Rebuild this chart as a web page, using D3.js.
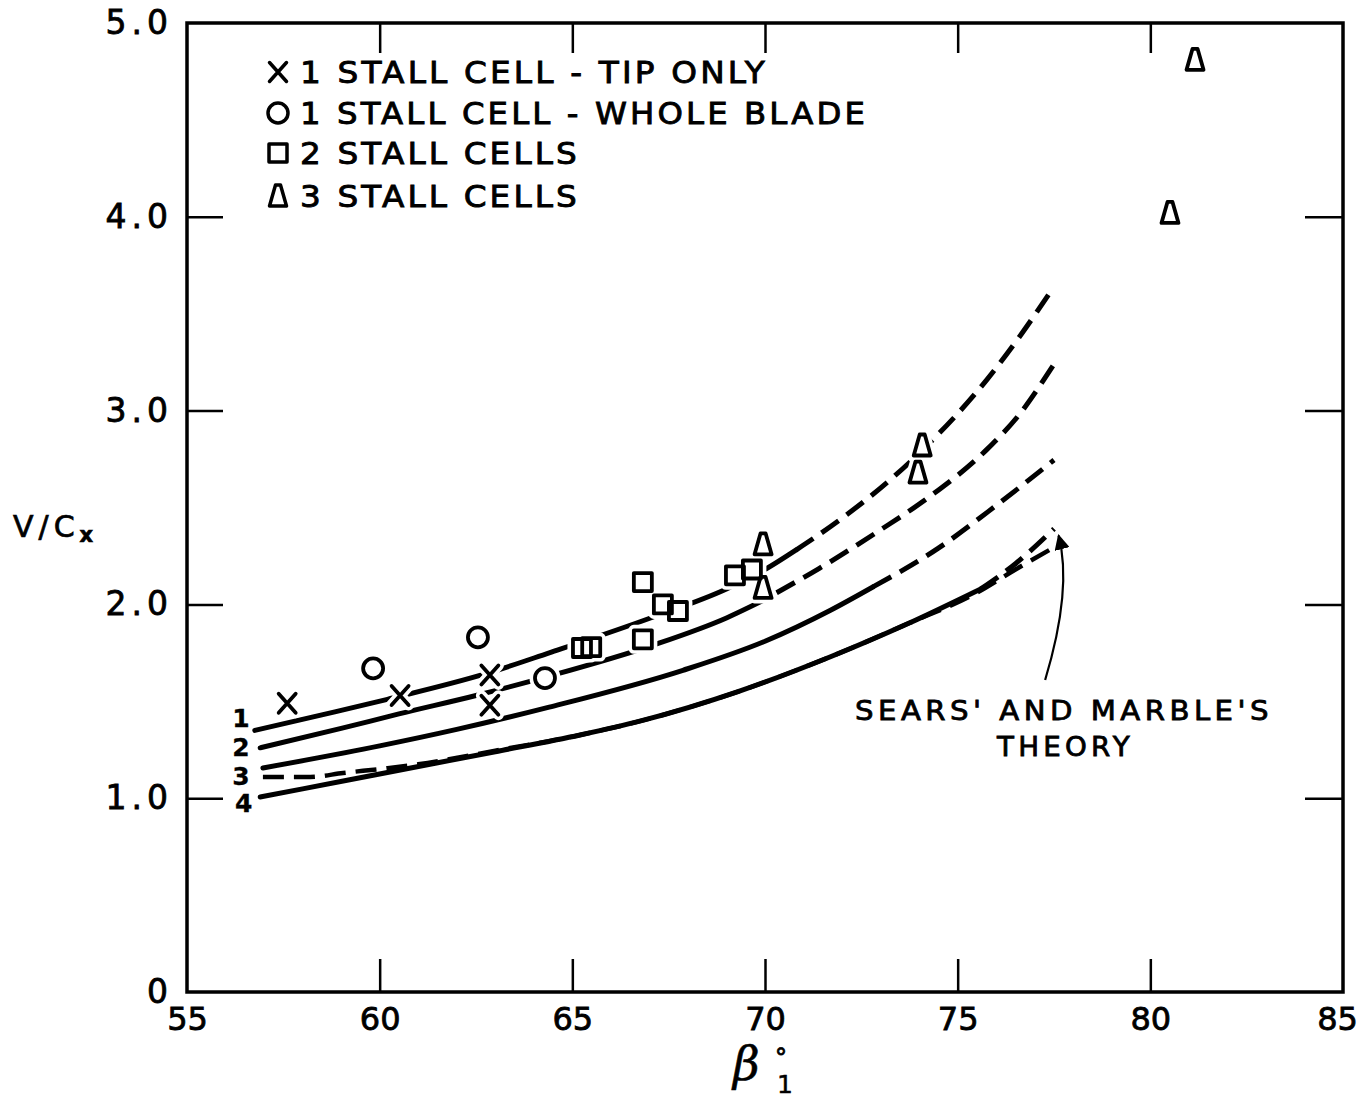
<!DOCTYPE html>
<html>
<head>
<meta charset="utf-8">
<script src="https://cdn.jsdelivr.net/npm/d3@7"></script>
<style>
  body { margin: 0; background: #fff; }
  svg { display: block; }
</style>
</head>
<body>
<script>
// ---- axis ticks ----
const xTicks = [55, 60, 65, 70, 75, 80, 85];
const yTicks = [0, 1, 2, 3, 4, 5];
const yTickLabels = ["0", "1.0", "2.0", "3.0", "4.0", "5.0"];

// ---- measured stall points: [beta1 (deg), V/Cx] ----
const tipOnly    = [[57.6, 1.49], [60.53, 1.53], [62.86, 1.636], [62.86, 1.48]];
const wholeBlade = [[59.83, 1.67], [62.55, 1.83], [64.29, 1.62]];
const twoCells   = [[65.25, 1.775], [65.49, 1.78], [66.83, 2.115], [66.83, 1.82],
                    [67.35, 2.00], [67.74, 1.966], [69.22, 2.15], [69.66, 2.18]];
const threeCells = [[69.95, 2.31], [69.95, 2.085], [74.08, 2.82], [73.97, 2.68],
                    [80.51, 4.02], [81.16, 4.81]];

// ---- correlation curves 1..4 (solid = measured range, dashed = extrapolated) ----
const curve1Solid = [[56.76, 1.35], [58.5, 1.43], [60.2, 1.51], [62.8, 1.645], [64.4, 1.75],
                     [67.1, 1.935], [69.0, 2.08], [70.0, 2.18], [70.8, 2.28]];
const curve1Dash  = [[70.8, 2.28], [71.4, 2.36], [74.0, 2.78], [75.76, 3.16], [76.6, 3.38], [77.5, 3.64]];
const curve2Solid = [[56.9, 1.26], [59.0, 1.36], [60.5, 1.435], [62.5, 1.53], [64.4, 1.63],
                     [67.1, 1.79], [69.0, 1.93], [69.95, 2.02]];
const curve2Dash  = [[70.3, 2.06], [71.4, 2.185], [73.0, 2.385], [74.3, 2.56], [75.76, 2.80], [76.6, 2.98], [77.5, 3.24]];
const curve3Solid = [[56.97, 1.156], [60.0, 1.27], [62.0, 1.355], [64.4, 1.47], [67.87, 1.66],
                     [70.0, 1.81], [71.7, 1.97], [72.8, 2.09]];
const curve3Dash  = [[72.8, 2.09], [74.5, 2.29], [75.8, 2.48], [77.5, 2.745]];
const curve4Solid = [[56.9, 1.006], [58.0, 1.048], [60.2, 1.133], [63.0, 1.24], [65.2, 1.326],
                     [66.8, 1.40], [69.3, 1.55], [71.7, 1.73], [73.7, 1.90], [75.6, 2.08]];
const curve4Dash  = [[75.6, 2.08], [76.5, 2.21], [77.5, 2.39]];
// Sears' and Marble's theory
const theory      = [[56.97, 1.11], [58.2, 1.11], [59.05, 1.13], [60.2, 1.155], [61.0, 1.175],
                     [63.0, 1.245], [65.2, 1.326], [66.8, 1.40], [69.3, 1.55], [71.7, 1.73],
                     [73.7, 1.90], [75.5, 2.06], [76.5, 2.18], [77.55, 2.30]];

const curveLabels = ["1", "2", "3", "4"];
const curveLabelPos = [[56.4, 1.414], [56.4, 1.264], [56.4, 1.115], [56.47, 0.975]];
const legendLabels = ["1 STALL CELL - TIP ONLY", "1 STALL CELL - WHOLE BLADE", "2 STALL CELLS", "3 STALL CELLS"];

// ---- layout ----
const W = 1363, H = 1101;
const FONT = "'DejaVu Sans', Verdana, sans-serif";
const x = d3.scaleLinear().domain([55, 85]).range([187, 1343]);
const y = d3.scaleLinear().domain([0, 5]).range([992, 23]);

const svg = d3.select("body").append("svg").attr("width", W).attr("height", H);

// lettering helper: slightly heavier strokes than the plain font
function ink(sel, w) {
  return sel.attr("fill", "#000").attr("stroke", "#000").attr("stroke-width", w == null ? 0.7 : w);
}

// axes: inward ticks on all four sides
function styleAxis(g) {
  g.select(".domain").remove();
  g.selectAll(".tick line").attr("stroke", "#000").attr("stroke-width", 2.5);
  ink(g.selectAll(".tick text").attr("font-family", FONT).attr("font-size", 33), 0.8);
  g.selectAll(".tick").filter(d => d === 55 || d === 85 || d === 0 || d === 5)
    .select("line").remove();
}
svg.append("g").attr("transform", `translate(0,${y(0)})`)
  .call(d3.axisBottom(x).tickValues(xTicks).tickSizeInner(-33).tickSizeOuter(0).tickPadding(15))
  .call(styleAxis)
  .call(g => g.selectAll(".tick text").attr("font-size", 32)
    .attr("dx", d => d === 85 ? -6 : 0));
svg.append("g").attr("transform", `translate(0,${y(5)})`)
  .call(d3.axisTop(x).tickValues(xTicks).tickSizeInner(-30).tickSizeOuter(0).tickFormat(""))
  .call(styleAxis);
svg.append("g").attr("transform", `translate(${x(55)},0)`)
  .call(d3.axisLeft(y).tickValues(yTicks).tickSizeInner(-36).tickSizeOuter(0).tickPadding(14)
    .tickFormat((d, i) => yTickLabels[i]))
  .call(styleAxis)
  .call(g => g.selectAll(".tick text").attr("letter-spacing", 5));
svg.append("g").attr("transform", `translate(${x(85)},0)`)
  .call(d3.axisRight(y).tickValues(yTicks).tickSizeInner(-38).tickSizeOuter(0).tickFormat(""))
  .call(styleAxis);

// plot frame
svg.append("rect")
  .attr("x", x(55)).attr("y", y(5))
  .attr("width", x(85) - x(55)).attr("height", y(0) - y(5))
  .attr("fill", "none").attr("stroke", "#000").attr("stroke-width", 3.5);

// curves
const line = d3.line().x(d => x(d[0])).y(d => y(d[1])).curve(d3.curveMonotoneX);
function drawCurve(data, dashed, width) {
  svg.append("path").datum(data)
    .attr("d", line)
    .attr("fill", "none").attr("stroke", "#000")
    .attr("stroke-width", width || 5)
    .attr("stroke-linecap", dashed ? "butt" : "round")
    .attr("stroke-dasharray", dashed ? "21,10" : null);
}
drawCurve(theory, true, 4.5);
[curve1Solid, curve2Solid, curve3Solid, curve4Solid].forEach(c => drawCurve(c, false));
[curve1Dash, curve2Dash, curve3Dash, curve4Dash].forEach(c => drawCurve(c, true));

// curve numbers at left ends
ink(svg.append("g").selectAll("text").data(curveLabels).join("text")
  .attr("x", (d, i) => x(curveLabelPos[i][0]))
  .attr("y", (d, i) => y(curveLabelPos[i][1]))
  .attr("dy", "0.36em")
  .attr("text-anchor", "middle")
  .attr("font-family", FONT).attr("font-size", 25).attr("font-weight", "bold")
  .text(d => d), 0.3);

// ---- markers ----
function markerPath(type) {
  switch (type) {
    case "x": return "M-8.5,-9.5L8.5,9.5M-8.5,9.5L8.5,-9.5";
    case "o": return d3.symbol(d3.symbolCircle, Math.PI * 10 * 10)();
    case "s": return "M-9,-9H9V9H-9Z";
    case "t": return "M-2.5,-11H2.5L8.5,10H-8.5Z";
  }
}
const groups = [
  { type: "x", data: tipOnly },
  { type: "o", data: wholeBlade },
  { type: "s", data: twoCells },
  { type: "t", data: threeCells }
];
const markerLayer = svg.append("g");
// white halo first so lines break around marks
groups.forEach(gp => {
  markerLayer.append("g").selectAll("path").data(gp.data).join("path")
    .attr("transform", d => `translate(${x(d[0])},${y(d[1])})`)
    .attr("d", markerPath(gp.type))
    .attr("fill", gp.type === "x" ? "none" : "#fff")
    .attr("stroke", "#fff").attr("stroke-width", 11)
    .attr("stroke-linejoin", "round").attr("stroke-linecap", "round");
});
groups.forEach(gp => {
  markerLayer.append("g").selectAll("path").data(gp.data).join("path")
    .attr("transform", d => `translate(${x(d[0])},${y(d[1])})`)
    .attr("d", markerPath(gp.type))
    .attr("fill", "none")
    .attr("stroke", "#000").attr("stroke-width", 3.8)
    .attr("stroke-linejoin", "round").attr("stroke-linecap", "round");
});

// ---- legend ----
const legendRows = [72, 113, 153, 196];
const legendTextLen = [468, 568, 280, 280];
const legend = svg.append("g");
groups.forEach((gp, i) => {
  legend.append("path")
    .attr("transform", `translate(278,${legendRows[i]})`)
    .attr("d", markerPath(gp.type))
    .attr("fill", "none").attr("stroke", "#000").attr("stroke-width", 3.5)
    .attr("stroke-linejoin", "round").attr("stroke-linecap", "round");
  ink(legend.append("text")
    .attr("x", 300).attr("y", legendRows[i] + 11)
    .attr("font-family", FONT).attr("font-size", 31).attr("letter-spacing", 3)
    .attr("textLength", legendTextLen[i]).attr("lengthAdjust", "spacingAndGlyphs")
    .text(legendLabels[i]), 0.9);
});

// ---- theory annotation with arrow ----
svg.append("defs").append("marker")
  .attr("id", "head").attr("viewBox", "0 0 10 10")
  .attr("refX", 9).attr("refY", 5)
  .attr("markerWidth", 7).attr("markerHeight", 7)
  .attr("markerUnits", "strokeWidth")
  .attr("orient", "auto")
  .append("path").attr("d", "M0,0L10,5L0,10Z").attr("fill", "#000");

const arrowTail = [77.27, 1.61], arrowCtrl = [77.98, 2.08], arrowTip = [77.62, 2.355];
const ap = d3.path();
ap.moveTo(x(arrowTail[0]), y(arrowTail[1]));
ap.quadraticCurveTo(x(arrowCtrl[0]), y(arrowCtrl[1]), x(arrowTip[0]), y(arrowTip[1]));
svg.append("path").attr("d", ap.toString())
  .attr("fill", "none").attr("stroke", "#000").attr("stroke-width", 2.2)
  .attr("marker-end", "url(#head)");

ink(svg.append("text")
  .attr("x", 855).attr("y", 720)
  .attr("font-family", FONT).attr("font-size", 26).attr("letter-spacing", 4)
  .attr("textLength", 418).attr("lengthAdjust", "spacingAndGlyphs")
  .text("SEARS' AND MARBLE'S"), 0.8);
ink(svg.append("text")
  .attr("x", 997).attr("y", 756)
  .attr("font-family", FONT).attr("font-size", 26).attr("letter-spacing", 4)
  .attr("textLength", 137).attr("lengthAdjust", "spacingAndGlyphs")
  .text("THEORY"), 0.8);

// ---- axis titles ----
const yTitle = ink(svg.append("text")
  .attr("x", 13).attr("y", 537)
  .attr("font-family", FONT).attr("font-size", 30).attr("letter-spacing", 5), 0.7);
yTitle.append("tspan").text("V/C");
yTitle.append("tspan").attr("font-size", 21).attr("font-weight", "bold").attr("dy", 5).text("x");

// beta_1 with degree sign
ink(svg.append("text")
  .attr("x", 733).attr("y", 1080)
  .attr("font-family", "'DejaVu Serif', serif").attr("font-style", "italic").attr("font-size", 46)
  .text("β"), 0.6);
ink(svg.append("text")
  .attr("x", 775).attr("y", 1066)
  .attr("font-family", FONT).attr("font-size", 24)
  .text("°"), 0.8);
ink(svg.append("text")
  .attr("x", 777).attr("y", 1093)
  .attr("font-family", FONT).attr("font-size", 25)
  .text("1"), 0.5);
</script>
</body>
</html>
